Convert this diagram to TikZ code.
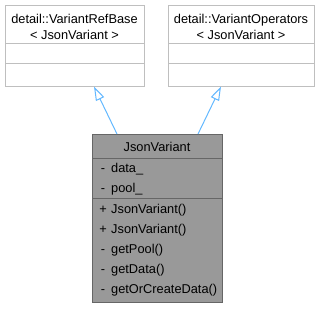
\documentclass[tikz,border=0pt]{standalone}
\usepackage{fontspec}
\setmainfont{Liberation Sans}
\usetikzlibrary{arrows.meta,calc}
\definecolor{edgeblue}{HTML}{63B8FF}
\definecolor{basegray}{HTML}{BFBFBF}
\definecolor{classfill}{HTML}{999999}
\definecolor{classline}{HTML}{666666}
\begin{document}
\begin{tikzpicture}[x=1pt,y=-1pt,
  every node/.style={inner sep=0pt,font=\fontsize{12.8}{16}\selectfont},
  basebox/.style={draw=basegray,line width=1pt,fill=white},
  mainbox/.style={draw=classline,line width=1pt,fill=classfill},
  member/.style={anchor=mid west},
  vis/.style={anchor=mid},
  inherit/.style={draw=edgeblue,line width=1pt,
    -{Triangle[length=14pt,width=9pt,fill=white]}}]
\useasboundingbox (0,0) rectangle (320,308);

% base class: VariantRefBase
\draw[basebox] (5,5) rectangle (144,86);
\draw[draw=basegray,line width=1pt] (5,43) -- (144,43) (5,63) -- (144,63);
\node (refbase) [align=center] at (74.5,27) {detail::VariantRefBase\\[-0.5pt]< JsonVariant >};
\coordinate (refbaseTip) at (94,86.5);

% base class: VariantOperators
\draw[basebox] (168,5) rectangle (314,86);
\draw[draw=basegray,line width=1pt] (168,43) -- (314,43) (168,63) -- (314,63);
\node (operators) [align=center] at (241,27) {detail::VariantOperators\\[-0.5pt]< JsonVariant >};
\coordinate (operatorsTip) at (221,86.5);

% derived class: JsonVariant
\draw[mainbox] (92,134) rectangle (222,302);
\draw[draw=classline,line width=1pt] (92,158) -- (222,158) (92,198) -- (222,198);
\node (jv) [vis] at (157,148.5) {JsonVariant};
\coordinate (jvLeft) at (117,134);
\coordinate (jvRight) at (198,134);

\node (v1) [vis] at (103,170) {-};
\node (m1) [member] at (111,170) {data\_};
\node (v2) [vis] at (103,190) {-};
\node (m2) [member] at (111,190) {pool\_};
\node (v3) [vis] at (103,211) {+};
\node (m3) [member] at (111,211) {JsonVariant()};
\node (v4) [vis] at (103,231) {+};
\node (m4) [member] at (111,231) {JsonVariant()};
\node (v5) [vis] at (103,251) {-};
\node (m5) [member] at (111,251) {getPool()};
\node (v6) [vis] at (103,271) {-};
\node (m6) [member] at (111,271) {getData()};
\node (v7) [vis] at (103,291) {-};
\node (m7) [member] at (111,291) {getOrCreateData()};

% inheritance edges
\draw[inherit] (jvLeft) -- (refbaseTip);
\draw[inherit] (jvRight) -- (operatorsTip);
\end{tikzpicture}
\end{document}
